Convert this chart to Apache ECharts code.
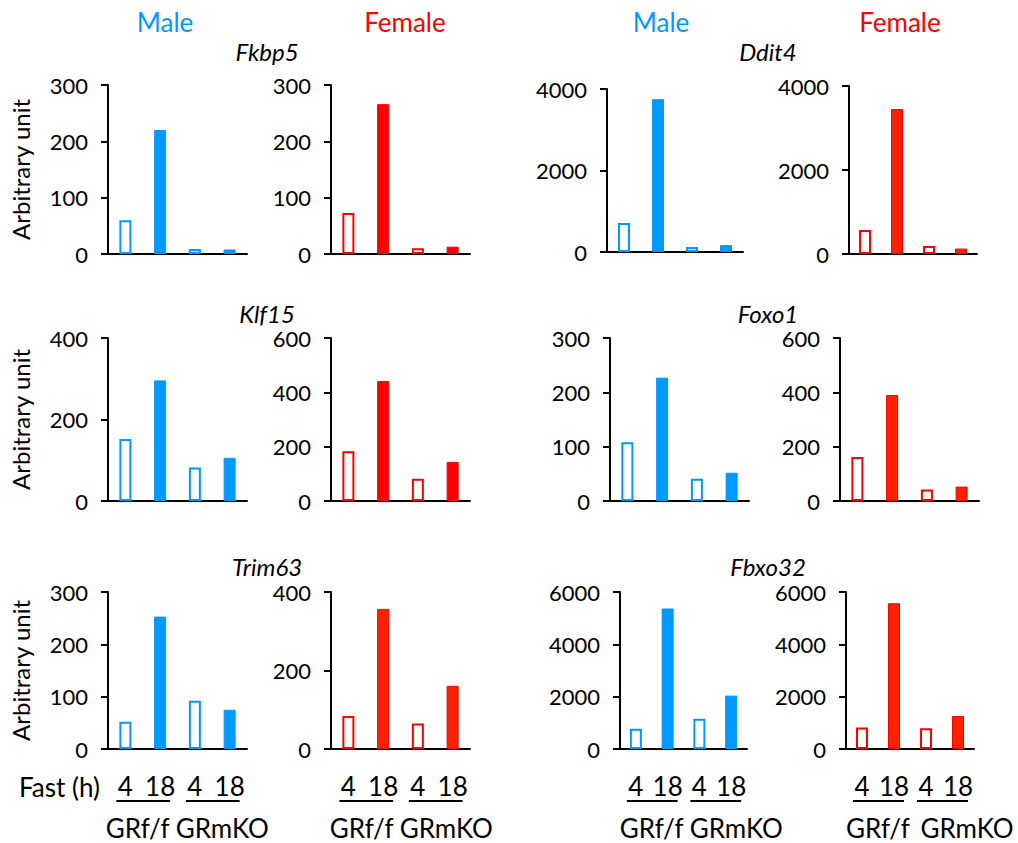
<!DOCTYPE html>
<html>
<head>
<meta charset="utf-8">
<script src="https://cdn.jsdelivr.net/npm/echarts@6/dist/echarts.min.js"></script>
<style>
  html, body { margin: 0; padding: 0; background: #fff; }
  #main { width: 1018px; height: 843px; }
</style>
</head>
<body>
<div id="main"></div>
<script>
// 数据：每组为 [4h GRf/f, 18h GRf/f, 4h GRmKO, 18h GRmKO]
const genes = ["Fkbp5", "Ddit4", "Klf15", "Foxo1", "Trim63", "Fbxo32"];
const sexes = ["Male", "Female"];
const fastHours = ["4", "18", "4", "18"];
const genotypes = ["GRf/f", "GRmKO"];

const fkbp5Male = [60, 220, 9, 8];
const fkbp5Female = [73, 266, 10, 13];
const ddit4Male = [710, 3750, 120, 170];
const ddit4Female = [570, 3450, 190, 130];
const klf15Male = [152, 296, 82, 106];
const klf15Female = [183, 442, 82, 144];
const foxo1Male = [108, 227, 41, 52];
const foxo1Female = [162, 390, 42, 53];
const trim63Male = [52, 253, 92, 75];
const trim63Female = [84, 357, 65, 161];
const fbxo32Male = [770, 5370, 1160, 2040];
const fbxo32Female = [820, 5570, 790, 1260];

const maleValues = [fkbp5Male, ddit4Male, klf15Male, foxo1Male, trim63Male, fbxo32Male];
const femaleValues = [fkbp5Female, ddit4Female, klf15Female, foxo1Female, trim63Female, fbxo32Female];

// y轴刻度
const maleMax = [300, 4000, 400, 300, 300, 6000];
const maleStep = [100, 2000, 200, 100, 100, 2000];
const femaleMax = [300, 4000, 600, 600, 400, 6000];
const femaleStep = [100, 2000, 200, 200, 200, 2000];

// 布局（像素）
const grids = [
  { left: 108, top: 85, width: 139, height: 169 },
  { left: 331, top: 85, width: 139, height: 169 },
  { left: 607, top: 89, width: 136, height: 163 },
  { left: 849, top: 86, width: 128, height: 168 },
  { left: 108, top: 338, width: 139, height: 163 },
  { left: 331, top: 338, width: 139, height: 163 },
  { left: 610, top: 338, width: 139, height: 163 },
  { left: 840, top: 338, width: 139, height: 163 },
  { left: 108, top: 592, width: 139, height: 157 },
  { left: 331, top: 592, width: 139, height: 157 },
  { left: 620, top: 592, width: 127, height: 157 },
  { left: 846, top: 592, width: 128, height: 157 },
];
// 底部 GRf/f、GRmKO 文字相对两柱中点的偏移
const genotypeShift = [[-5, 10], [-4, 11], [0, 21], [0, 25]];
const blue = "#0099ff";
const red = "#ff0000";
// 女性实心柱的填充色（部分图偏橙红）
const femaleFill = ["#ff0000", "#ff2000", "#ff0000", "#ff2000", "#ff2000", "#ff2000"];
const FONT = "Lato, 'Open Sans', sans-serif";

const xAxis = [];
const yAxis = [];
const series = [];

grids.forEach((g, i) => {
  const row = Math.floor(i / 4);
  const col = i % 4;
  const gene = row * 2 + Math.floor(col / 2);
  const female = col % 2 === 1;
  const values = female ? femaleValues[gene] : maleValues[gene];
  const color = female ? red : blue;
  const fill = female ? femaleFill[gene] : blue;

  xAxis.push({
    type: "category",
    gridIndex: i,
    data: fastHours,
    axisTick: { show: false },
    axisLine: { lineStyle: { color: "#000", width: 2 } },
    axisLabel: {
      show: row === 2,
      interval: 0,
      color: "#000",
      fontSize: 26,
      fontFamily: FONT,
      margin: 24,
    },
  });
  yAxis.push({
    type: "value",
    gridIndex: i,
    min: 0,
    max: female ? femaleMax[gene] : maleMax[gene],
    interval: female ? femaleStep[gene] : maleStep[gene],
    name: col === 0 ? "Arbitrary unit" : "",
    nameLocation: "middle",
    nameGap: 76,
    nameTextStyle: { color: "#000", fontSize: 24, fontFamily: FONT },
    splitLine: { show: false },
    axisLine: { show: true, lineStyle: { color: "#000", width: 2 } },
    axisTick: { show: true, length: 7, lineStyle: { color: "#000", width: 2 } },
    axisLabel: {
      color: "#000",
      fontSize: 22,
      fontFamily: FONT,
      margin: 20,
      formatter: (v) => String(v),
    },
  });
  series.push({
    type: "bar",
    xAxisIndex: i,
    yAxisIndex: i,
    barWidth: 12,
    silent: true,
    data: values.map((v, k) => ({
      value: v,
      itemStyle:
        k % 2 === 0
          ? { color: "#fff", borderColor: color, borderWidth: 2 }
          : { color: fill, borderColor: color, borderWidth: 1 },
    })),
  });
});

const chart = echarts.init(document.getElementById("main"), null, { renderer: "svg" });
chart.setOption({
  animation: false,
  grid: grids,
  xAxis: xAxis,
  yAxis: yAxis,
  series: series,
});

// 文字与下划线
const graphic = [];
const text = (x, y, t, fill, font, align) => ({
  type: "text",
  x: x,
  y: y,
  style: { text: t, fill: fill, font: font, align: align || "center", verticalAlign: "middle" },
});
[165, 405, 661, 900].forEach((x, c) => {
  graphic.push(text(x, 22, sexes[c % 2], c % 2 ? red : blue, "26px " + FONT));
});
const geneX = [267, 768];
const geneY = [51, 313, 566];
genes.forEach((name, gi) => {
  graphic.push(text(geneX[gi % 2], geneY[Math.floor(gi / 2)], name, "#000", "italic 24px " + FONT));
});
graphic.push(text(19, 787, "Fast (h)", "#000", "26px " + FONT, "left"));

[8, 9, 10, 11].forEach((i, c) => {
  const px = fastHours.map((_, k) => chart.convertToPixel({ xAxisIndex: i }, k));
  const yLine = grids[i].top + grids[i].height + 52;
  [[0, 1], [2, 3]].forEach(([a, b], gIdx) => {
    graphic.push({
      type: "line",
      shape: { x1: px[a] - 9, y1: yLine, x2: px[b] + 10, y2: yLine },
      style: { stroke: "#000", lineWidth: 2 },
    });
    graphic.push(text((px[a] + px[b]) / 2 + genotypeShift[c][gIdx], yLine + 27, genotypes[gIdx], "#000", "26px " + FONT));
  });
});
chart.setOption({ graphic: graphic });

window.addEventListener("resize", () => chart.resize());
</script>
</body>
</html>
